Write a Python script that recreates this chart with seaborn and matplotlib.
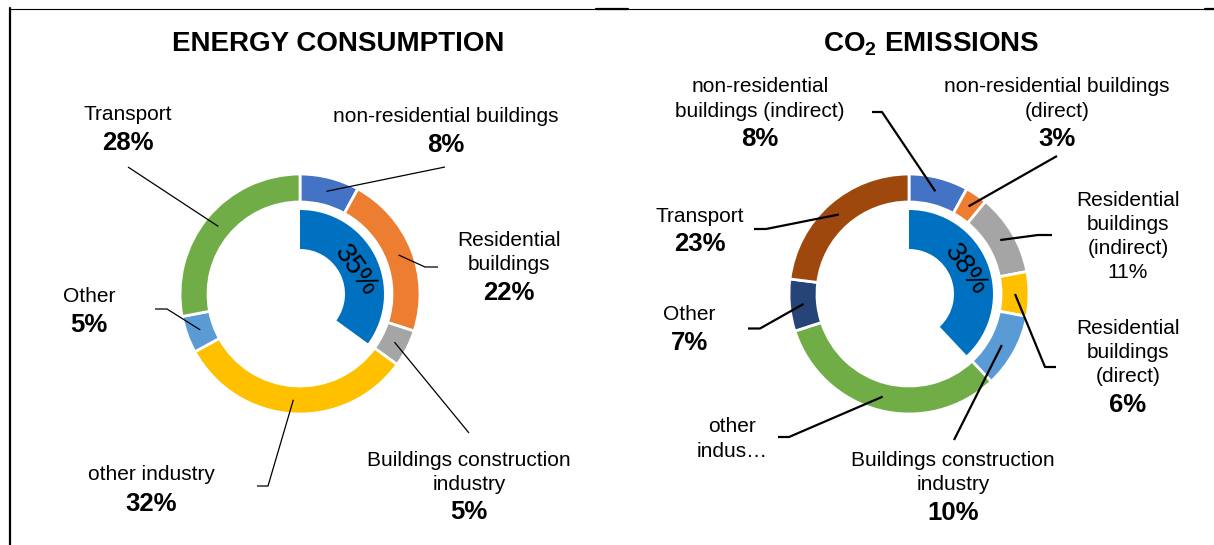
import numpy as np
import matplotlib.pyplot as plt
import seaborn as sns

# ---- data ----
energy_labels = ["non-residential buildings", "Residential\nbuildings", "Buildings construction\nindustry",
                 "other industry", "Other", "Transport"]
energy_values = [8, 22, 5, 32, 5, 28]
energy_buildings = 35

co2_labels = ["non-residential\nbuildings (indirect)", "non-residential buildings\n(direct)",
              "Residential\nbuildings\n(indirect)", "Residential\nbuildings\n(direct)",
              "Buildings construction\nindustry", "other\nindus\u2026", "Other", "Transport"]
co2_values = [8, 3, 11, 6, 10, 32, 7, 23]
co2_buildings = 38

energy_colors = ["#4472C4", "#ED7D31", "#A5A5A5", "#FFC000", "#5B9BD5", "#70AD47"]
co2_colors = ["#4472C4", "#ED7D31", "#A5A5A5", "#FFC000", "#5B9BD5", "#70AD47", "#264478", "#9E480E"]
inner_color = "#0070C0"

# ---- layout (pixels, y down) ----
W, H = 1214, 545
R_OUT, RING_W = 120, 28
R_IN, IN_W = 84, 39

energy_center = (300, 294)
energy_inner_xy = (356, 271)
energy_text_xy = [(446, 117), (509, 240), (469, 460), (151, 475), (89, 296), (128, 115)]
energy_pct_y = [145, 293, 512, 504, 325, 143]
energy_pct_bold = [True] * 6
energy_leads = [[(445, 167)], [(438, 267), (425, 267)], [(469, 433)],
                [(257, 486), (268, 486)], [(155, 309), (167, 309)], [(128, 167)]]

co2_center = (909, 294)
co2_inner_xy = (966, 270)
co2_text_xy = [(760, 87), (1057, 87), (1128, 200), (1128, 328), (953, 460), (732, 427), (689, 315), (700, 216)]
co2_pct_y = [139, 139, 273, 405, 513, None, 343, 244]
co2_pct_bold = [True, True, False, True, True, True, True, True]
co2_leads = [[(872, 112), (882, 112)], [(1057, 156)], [(1052, 235), (1038, 235)],
             [(1056, 367), (1045, 367)], [(954, 440)], [(778, 437), (789, 437)],
             [(748, 328.5), (760, 328.5)], [(754, 229), (766, 229)]]

sns.set_theme(style="white")
plt.rcParams['font.family'] = ['Liberation Sans', 'DejaVu Sans']
plt.rcParams['text.color'] = 'black'
plt.rcParams['mathtext.fontset'] = 'custom'
plt.rcParams['mathtext.rm'] = 'Liberation Sans'
plt.rcParams['mathtext.bf'] = 'Liberation Sans:bold'

fig = plt.figure(figsize=(W / 100, H / 100), dpi=100)
ax = fig.add_axes([0, 0, 1, 1])


def donut(center, values, colors, inner, inner_xy, labels, text_xy, pct_y, pct_bold, leads, lead_lw):
    cx, cy = center
    # y axis is inverted, so startangle=-90 + counterclock gives clockwise from the top
    ax.pie(values, colors=colors, startangle=-90, counterclock=True, radius=R_OUT, center=center,
           wedgeprops=dict(width=RING_W, edgecolor="white", linewidth=2))
    ax.pie([inner, 100 - inner], colors=[inner_color, "none"], startangle=-90, counterclock=True,
           radius=R_IN, center=center, wedgeprops=dict(width=IN_W, edgecolor="white", linewidth=0))
    ax.text(inner_xy[0], inner_xy[1], f"{inner}%", rotation=-55, rotation_mode="anchor",
            ha="center", va="center", fontsize=20)

    cum = np.cumsum([0] + list(values))
    for i, v in enumerate(values):
        mid = np.deg2rad(360 * (cum[i] + v / 2) / 100)
        rm = R_OUT - RING_W / 2
        px, py = cx + rm * np.sin(mid), cy - rm * np.cos(mid)
        pts = leads[i] + [(px, py)]
        ax.plot([p[0] for p in pts], [p[1] for p in pts], color="black", lw=lead_lw,
                solid_capstyle="butt")
        x0, y0 = text_xy[i]
        for j, line in enumerate(labels[i].split("\n")):
            ax.text(x0, y0 + j * 24.5, line, ha="center", va="center", fontsize=15)
        if pct_y[i] is not None:
            ax.text(x0, pct_y[i], f"{v}%", ha="center", va="center", fontsize=18.5 if pct_bold[i] else 15,
                    fontweight="bold" if pct_bold[i] else "normal")


donut(energy_center, energy_values, energy_colors, energy_buildings, energy_inner_xy, energy_labels,
      energy_text_xy, energy_pct_y, energy_pct_bold, energy_leads, 0.9)
donut(co2_center, co2_values, co2_colors, co2_buildings, co2_inner_xy, co2_labels,
      co2_text_xy, co2_pct_y, co2_pct_bold, co2_leads, 1.6)

ax.text(338, 44, "ENERGY CONSUMPTION", ha="center", va="center", fontsize=20, fontweight="bold")
ax.text(931, 44, r"CO$_\mathbf{2}$ EMISSIONS", ha="center", va="center", fontsize=20, fontweight="bold")

# frame lines
ax.plot([9, W], [8.5, 8.5], color="black", lw=0.8)
ax.plot([9.5, 9.5], [8, H], color="black", lw=1.6)
ax.plot([596, 628], [9, 9], color="black", lw=1.6)
ax.plot([1205, W], [9, 9], color="black", lw=1.6)

ax.set_xlim(0, W)
ax.set_ylim(H, 0)
ax.set_aspect("auto")
ax.axis("off")

fig.savefig("out.png", dpi=100, facecolor="white")
